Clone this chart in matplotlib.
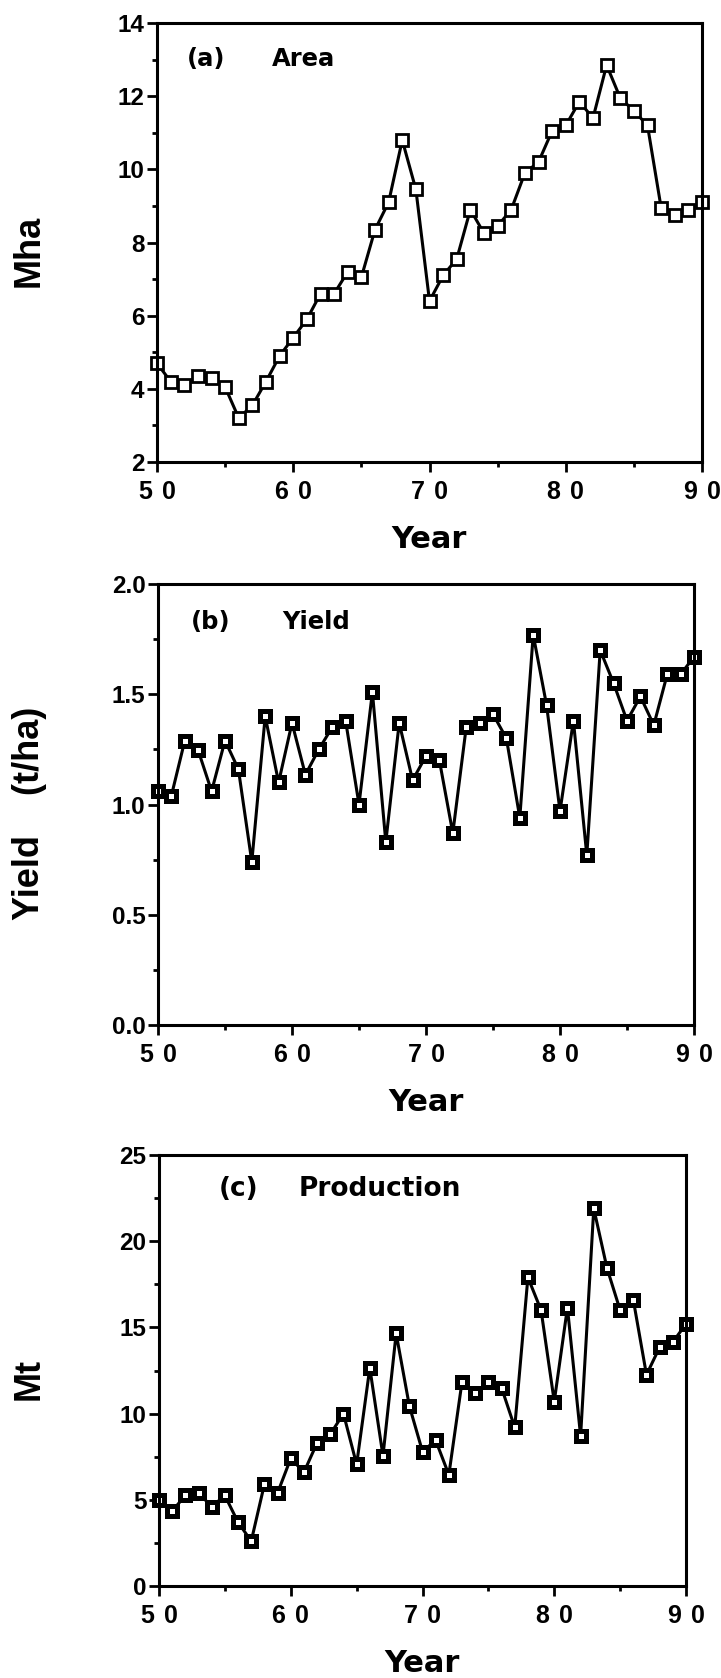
import matplotlib
matplotlib.use("Agg")
import matplotlib.pyplot as plt
from matplotlib.ticker import MultipleLocator

plt.rcParams['font.family'] = ['Liberation Sans', 'DejaVu Sans']
plt.rcParams['font.weight'] = 'bold'
WIDE = ['DejaVu Sans']

years = list(range(1950, 1991))

area = [4.7, 4.2, 4.1, 4.35, 4.3, 4.05, 3.2, 3.55, 4.2, 4.9,
        5.4, 5.9, 6.6, 6.6, 7.2, 7.05, 8.35, 9.1, 10.8, 9.45,
        6.4, 7.1, 7.55, 8.9, 8.25, 8.45, 8.9, 9.9, 10.2, 11.05,
        11.2, 11.85, 11.4, 12.85, 11.95, 11.6, 11.2, 8.95, 8.75, 8.9,
        9.1]

yld = [1.06, 1.04, 1.29, 1.245, 1.06, 1.29, 1.16, 0.74, 1.40, 1.10,
       1.37, 1.135, 1.25, 1.35, 1.38, 1.00, 1.51, 0.83, 1.37, 1.11,
       1.22, 1.20, 0.87, 1.35, 1.37, 1.41, 1.30, 0.94, 1.77, 1.45,
       0.97, 1.38, 0.77, 1.70, 1.55, 1.38, 1.49, 1.36, 1.59, 1.59,
       1.67]

prod = [5.0, 4.35, 5.25, 5.4, 4.6, 5.25, 3.7, 2.6, 5.9, 5.4,
        7.4, 6.6, 8.3, 8.8, 10.0, 7.05, 12.65, 7.55, 14.65, 10.45,
        7.8, 8.45, 6.45, 11.85, 11.2, 11.85, 11.5, 9.2, 17.9, 16.0,
        10.7, 16.15, 8.7, 21.9, 18.45, 16.0, 16.6, 12.25, 13.85, 14.15,
        15.2]

xticks = [1950, 1960, 1970, 1980, 1990]
xticklabels = ["5 \u200a0", "6 \u200a0", "7 \u200a0", "8 \u200a0", "9 \u200a0"]

W, H = 721, 1678
fig = plt.figure(figsize=(W / 100, H / 100), dpi=100)

def box(left, top, right, bottom):
  return [left / W, 1 - bottom / H, (right - left) / W, (bottom - top) / H]

# (data, ylim, major, minor, ylabel, tag, tag_x, title, title_x, text_y, textsize, box, hollow)
panels = [
  (area, (2, 14), 2, 1, "Mha", "(a)", 0.055, "Area", 0.211, 0.918, 17.5, box(157, 23, 702, 462), True),
  (yld, (0, 2.0), 0.5, 0.25, "Yield    (t/ha)", "(b)", 0.062, "Yield", 0.231, 0.913, 17.5, box(158, 584, 694, 1025), False),
  (prod, (0, 25), 5, 2.5, "Mt", "(c)", 0.114, "Production", 0.264, 0.921, 19, box(159, 1155, 686, 1586), False),
]

for data, ylim, major, minor, ylabel, tag, gx, title, tx, ty, tsize, rect, hollow in panels:
  ax = fig.add_axes(rect)
  if hollow:
    ax.plot(years, data, color="black", lw=2.2, marker="s", ms=8.5,
            mfc="white", mec="black", mew=2.0, clip_on=False)
  else:
    ax.plot(years, data, color="black", lw=2.2, marker="s", ms=7,
            mfc="white", mec="black", mew=3.6, clip_on=False)
  ax.set_xlim(1950, 1990)
  ax.set_ylim(*ylim)
  ax.set_xticks(xticks)
  ax.set_xticklabels(xticklabels)
  ax.xaxis.set_minor_locator(MultipleLocator(5))
  ax.yaxis.set_major_locator(MultipleLocator(major))
  ax.yaxis.set_minor_locator(MultipleLocator(minor))
  if major < 1:
    ax.yaxis.set_major_formatter(plt.FormatStrFormatter("%.1f"))
  for s in ax.spines.values():
    s.set_linewidth(2.2)
  ax.tick_params(which="major", direction="out", length=7, width=2, labelsize=17.5, pad=2)
  ax.tick_params(which="minor", direction="out", length=3.5, width=2)
  ax.tick_params(axis="x", pad=6, labelsize=18)
  for lab in ax.get_xticklabels() + ax.get_yticklabels():
    lab.set_fontweight("bold")
  ax.set_xlabel("Year", fontsize=22, fontweight="bold", family=WIDE, labelpad=15)
  ax.set_ylabel(ylabel, fontsize=26, fontweight="bold")
  ax.yaxis.set_label_coords(-(rect[0] * W - 47) / (rect[2] * W), 0.48)
  ax.text(gx, ty, tag, transform=ax.transAxes, fontsize=tsize, family=WIDE,
          fontweight="bold", va="center", ha="left")
  ax.text(tx, ty, title, transform=ax.transAxes, fontsize=tsize, family=WIDE,
          fontweight="bold", va="center", ha="left")

fig.savefig("out.png", dpi=100)
